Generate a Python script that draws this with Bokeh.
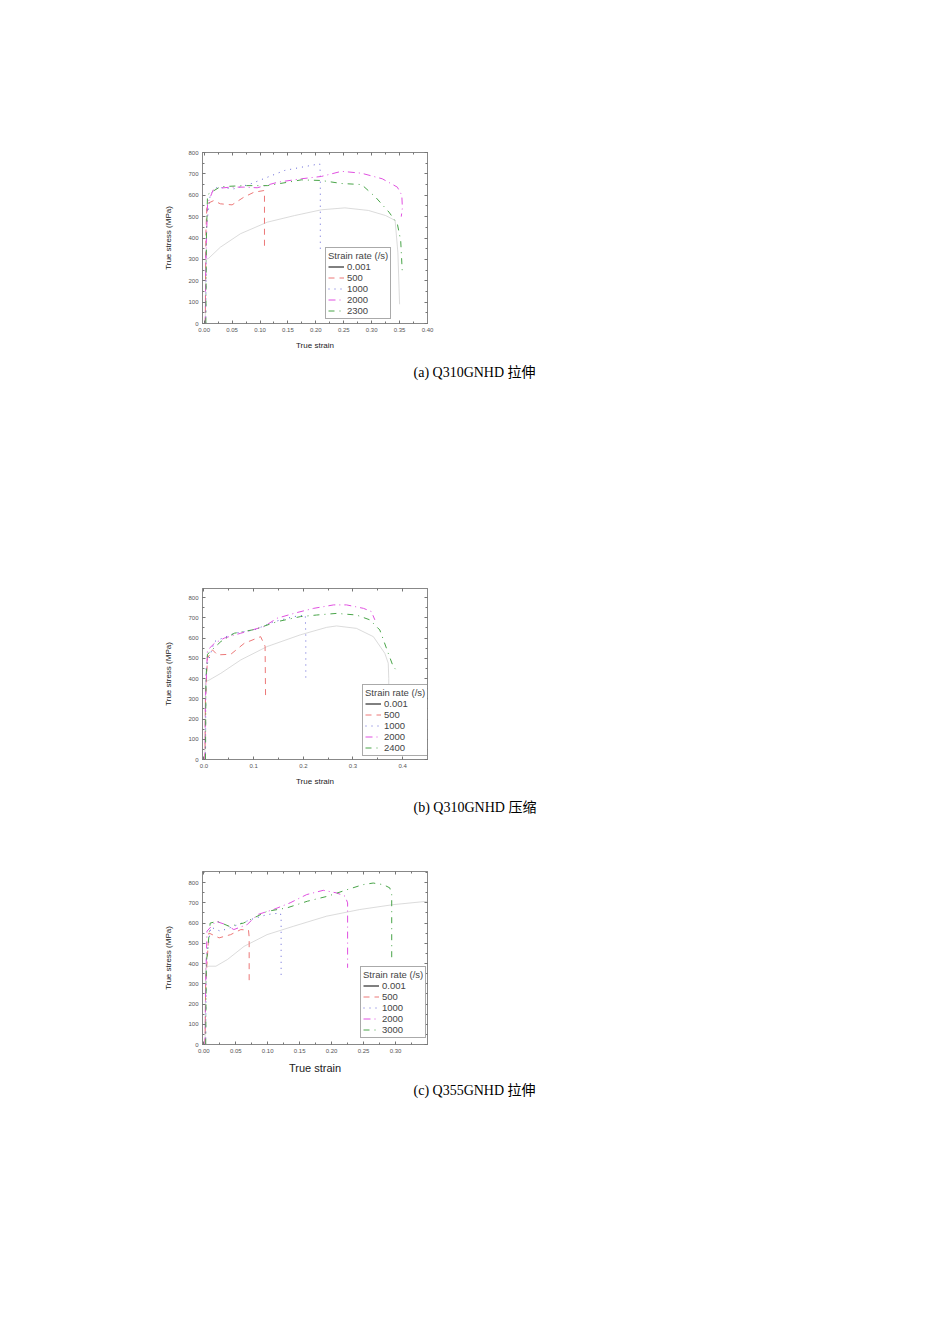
from bokeh.plotting import figure
from bokeh.models import (Legend, LegendItem, LinearAxis, Range1d, Title,
                          PrintfTickFormatter, SingleIntervalTicker)
from bokeh.layouts import column
from bokeh.embed import file_html
from bokeh.resources import INLINE

# (a) Q310GNHD tension
rates_a = ['0.001', '500', '1000', '2000', '2300']
a_0001_x = [0.002, 0.003, 0.008, 0.029, 0.065, 0.113, 0.162, 0.21, 0.252, 0.294, 0.325, 0.342, 0.347, 0.350]
a_0001_y = [0, 300, 305, 357, 420, 474, 505, 532, 541, 529, 505, 482, 330, 90]
a_500_x = [0.002, 0.003, 0.005, 0.017, 0.029, 0.05, 0.071, 0.089, 0.107, 0.108, 0.108]
a_500_y = [0, 420, 560, 575, 560, 555, 591, 614, 622, 600, 350]
a_1000_x = [0.003, 0.004, 0.011, 0.023, 0.053, 0.083, 0.113, 0.144, 0.174, 0.207, 0.208, 0.208]
a_1000_y = [0, 450, 607, 638, 630, 653, 684, 716, 731, 747, 700, 340]
a_2000_x = [0.002, 0.003, 0.006, 0.017, 0.047, 0.071, 0.095, 0.132, 0.174, 0.21, 0.246, 0.282, 0.319, 0.346, 0.354, 0.355, 0.353]
a_2000_y = [0, 300, 560, 630, 638, 638, 635, 661, 677, 688, 712, 703, 677, 638, 600, 540, 500]
a_2300_x = [0.003, 0.004, 0.006, 0.029, 0.071, 0.113, 0.15, 0.174, 0.21, 0.246, 0.282, 0.307, 0.331, 0.346, 0.352, 0.355]
a_2300_y = [0, 400, 603, 640, 645, 645, 661, 672, 669, 655, 650, 591, 521, 466, 388, 232]

# (b) Q310GNHD compression
rates_b = ['0.001', '500', '1000', '2000', '2400']
b_0001_x = [0.002, 0.003, 0.01, 0.034, 0.074, 0.127, 0.194, 0.247, 0.267, 0.307, 0.341, 0.364, 0.371, 0.372, 0.372]
b_0001_y = [0, 385, 392, 426, 492, 558, 616, 653, 660, 648, 607, 525, 476, 400, 300]
b_500_x = [0.002, 0.003, 0.007, 0.017, 0.027, 0.054, 0.081, 0.114, 0.123, 0.124]
b_500_y = [0, 300, 500, 542, 517, 520, 574, 607, 560, 303]
b_1000_x = [0.003, 0.004, 0.021, 0.061, 0.101, 0.141, 0.181, 0.204, 0.205, 0.205]
b_1000_y = [0, 450, 583, 624, 640, 681, 706, 714, 600, 395]
b_2000_x = [0.002, 0.003, 0.007, 0.021, 0.041, 0.074, 0.121, 0.147, 0.187, 0.221, 0.261, 0.287, 0.321, 0.337, 0.344]
b_2000_y = [0, 300, 540, 574, 600, 624, 657, 698, 726, 747, 764, 764, 747, 731, 690]
b_2400_x = [0.003, 0.004, 0.007, 0.034, 0.061, 0.101, 0.147, 0.194, 0.227, 0.267, 0.307, 0.334, 0.354, 0.371, 0.381, 0.388]
b_2400_y = [0, 400, 520, 583, 624, 642, 681, 706, 714, 722, 714, 690, 640, 525, 459, 440]

# (c) Q355GNHD tension
rates_c = ['0.001', '500', '1000', '2000', '3000']
c_0001_x = [0.002, 0.003, 0.008, 0.019, 0.037, 0.063, 0.099, 0.14, 0.192, 0.244, 0.296, 0.35]
c_0001_y = [0, 380, 387, 387, 420, 485, 543, 584, 634, 667, 691, 708]
c_500_x = [0.002, 0.003, 0.008, 0.024, 0.042, 0.058, 0.07, 0.071, 0.071]
c_500_y = [0, 300, 551, 527, 543, 568, 565, 530, 300]
c_1000_x = [0.003, 0.004, 0.011, 0.026, 0.047, 0.073, 0.099, 0.12, 0.121, 0.121]
c_1000_y = [0, 420, 580, 560, 584, 617, 642, 650, 620, 321]
c_2000_x = [0.002, 0.003, 0.005, 0.019, 0.034, 0.047, 0.068, 0.084, 0.109, 0.135, 0.161, 0.187, 0.208, 0.221, 0.225, 0.225]
c_2000_y = [0, 300, 560, 609, 593, 568, 593, 642, 667, 700, 741, 762, 749, 733, 700, 379]
c_3000_x = [0.003, 0.004, 0.01, 0.021, 0.04, 0.062, 0.078, 0.099, 0.13, 0.162, 0.194, 0.224, 0.249, 0.265, 0.281, 0.291, 0.294, 0.294]
c_3000_y = [0, 400, 600, 609, 584, 600, 625, 658, 675, 708, 733, 765, 790, 798, 790, 774, 740, 420]

# line styles, one per strain rate slot
line_colors = ['#d2d2d2', '#ec7878', '#6464d6', '#e050e0', '#48a448']
line_dashes = ['solid', '6 5', '1 5', '7 4 1 4', '6 5 1 5']

SERIF = 'Liberation Serif, Noto Sans CJK SC'
NAN = float('nan')


def style_axis(ax, font_size='6px'):
    ax.axis_line_color = '#888888'
    ax.major_tick_line_color = '#777777'
    ax.minor_tick_line_color = '#777777'
    ax.major_tick_in = 3
    ax.major_tick_out = 0
    ax.minor_tick_in = 2
    ax.minor_tick_out = 0
    ax.major_label_text_font = 'Liberation Sans'
    ax.major_label_text_font_size = font_size
    ax.major_label_text_color = '#555555'
    ax.major_label_standoff = 4


def make_chart(series, rates, x_range, y_end, x_tick, x_fmt, caption,
               border_top, frame_h, border_bottom, legend_xy, xlabel_size,
               cap_standoff):

    p = figure(width=934, height=border_top + frame_h + border_bottom,
               x_range=Range1d(*x_range), y_range=Range1d(0, y_end),
               output_backend="svg", toolbar_location=None,
               min_border_left=202, min_border_right=507,
               min_border_top=border_top, min_border_bottom=border_bottom)

    p.xgrid.grid_line_color = None
    p.ygrid.grid_line_color = None
    p.outline_line_color = '#888888'
    p.background_fill_color = 'white'
    p.border_fill_color = 'white'

    xticker = SingleIntervalTicker(interval=x_tick, num_minor_ticks=2)
    yticker = SingleIntervalTicker(interval=100, num_minor_ticks=2)

    p.xaxis.ticker = xticker
    p.yaxis.ticker = yticker
    p.xaxis.formatter = PrintfTickFormatter(format=x_fmt)
    style_axis(p.xaxis[0])
    style_axis(p.yaxis[0])

    p.xaxis.axis_label = 'True strain'
    p.xaxis.axis_label_text_font = 'Liberation Sans'
    p.xaxis.axis_label_text_font_style = 'normal'
    p.xaxis.axis_label_text_font_size = xlabel_size
    p.xaxis.axis_label_text_color = '#222222'
    p.xaxis.axis_label_standoff = 6
    p.yaxis.axis_label = 'True stress (MPa)'
    p.yaxis.axis_label_text_font = 'Liberation Sans'
    p.yaxis.axis_label_text_font_style = 'normal'
    p.yaxis.axis_label_text_font_size = '8px'
    p.yaxis.axis_label_text_color = '#222222'
    p.yaxis.axis_label_standoff = 12

    # mirrored axes on top and right, ticks only
    top = LinearAxis(ticker=xticker, formatter=PrintfTickFormatter(format=""))
    right = LinearAxis(ticker=yticker, formatter=PrintfTickFormatter(format=""))
    style_axis(top)
    style_axis(right)
    p.add_layout(top, 'above')
    p.add_layout(right, 'right')

    items = []
    for i, (xs, ys) in enumerate(series):
        r = p.line(xs, ys, line_color=line_colors[i], line_dash=line_dashes[i],
                   line_width=1 if i else 0.8)
        if i == 0:
            # legend shows the quasi-static curve as a black solid line
            r = p.line([NAN], [NAN], line_color='black', line_width=1)
        items.append(LegendItem(label=rates[i], renderers=[r]))

    legend = Legend(items=items, location=legend_xy, title='Strain rate (/s)')
    legend.title_text_font = 'Liberation Sans'
    legend.title_text_font_style = 'normal'
    legend.title_text_font_size = '9.5px'
    legend.title_standoff = 0
    legend.label_text_font = 'Liberation Sans'
    legend.label_text_font_size = '9.5px'
    legend.label_height = 9
    legend.label_standoff = 3
    legend.glyph_width = 16
    legend.glyph_height = 9
    legend.spacing = 0
    legend.padding = 2
    legend.margin = 0
    legend.border_line_color = '#555555'
    legend.background_fill_alpha = 1
    p.add_layout(legend)

    # figure caption under the chart
    cap = Title(text=caption, align='left', offset=211, text_font=SERIF,
                text_font_size='14px', text_font_style='normal',
                text_color='black', standoff=cap_standoff)
    p.add_layout(cap, 'below')

    return p


p1 = make_chart([(a_0001_x, a_0001_y), (a_500_x, a_500_y), (a_1000_x, a_1000_y),
                 (a_2000_x, a_2000_y), (a_2300_x, a_2300_y)], rates_a,
                (-0.003, 0.4), 800, 0.05, '%.2f', '(a) Q310GNHD 拉伸',
                152, 171, 117, (123, 4), '8px', 21)

p2 = make_chart([(b_0001_x, b_0001_y), (b_500_x, b_500_y), (b_1000_x, b_1000_y),
                 (b_2000_x, b_2000_y), (b_2400_x, b_2400_y)], rates_b,
                (-0.003, 0.45), 845, 0.1, '%.1f', '(b) Q310GNHD 压缩',
                148, 171, 71, (160, 3), '8px', 18)

p3 = make_chart([(c_0001_x, c_0001_y), (c_500_x, c_500_y), (c_1000_x, c_1000_y),
                 (c_2000_x, c_2000_y), (c_3000_x, c_3000_y)], rates_c,
                (-0.002, 0.35), 855, 0.05, '%.2f', '(c) Q355GNHD 拉伸',
                41, 173, 150, (158, 6), '11px', 9)

layout = column(p1, p2, p3)

open("out.html", "w").write(file_html(layout, INLINE))
